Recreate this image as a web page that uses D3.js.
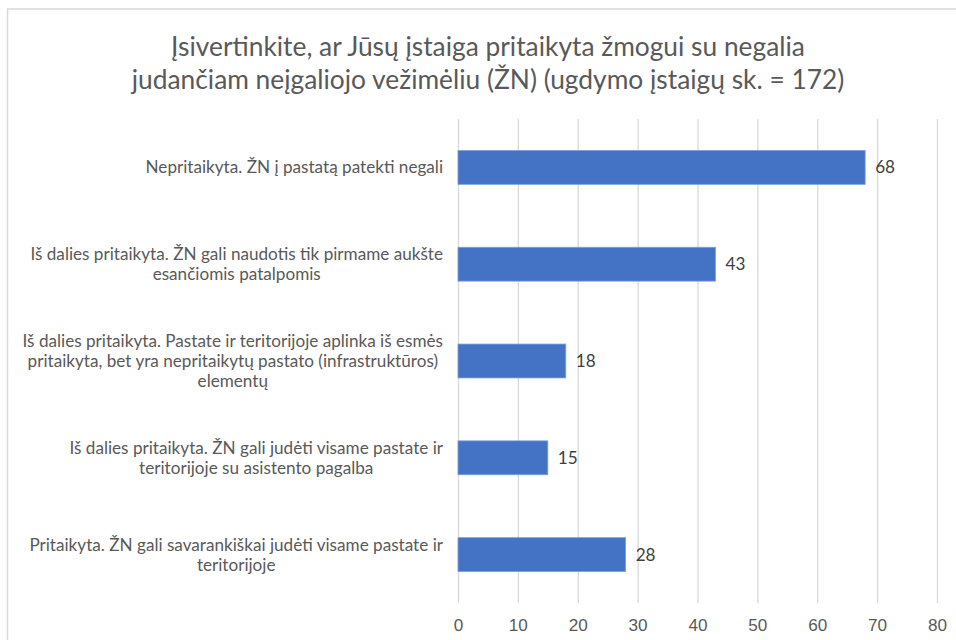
<!DOCTYPE html>
<html>
<head>
<meta charset="utf-8">
<style>
    body { margin: 0; background: #fff; }
    svg { font-family: Lato, "Liberation Sans", sans-serif; }
    .grid line { stroke: #d9d9d9; stroke-width: 1.3px; }
    .grid .domain { display: none; }
    .xaxis .domain { display: none; }
    .xaxis text { fill: #595959; }
</style>
<script src="https://d3js.org/d3.v7.min.js"></script>
</head>
<body>
<script>
    const width = 956, height = 640;

    const titleLines = [
        'Įsivertinkite, ar Jūsų įstaiga pritaikyta žmogui su negalia',
        'judančiam neįgaliojo vežimėliu (ŽN) (ugdymo įstaigų sk. = 172)'
    ];
    const categories = [
        'Nepritaikyta. ŽN į pastatą patekti negali',
        'Iš dalies pritaikyta. ŽN gali naudotis tik pirmame aukšte\nesančiomis patalpomis',
        'Iš dalies pritaikyta. Pastate ir teritorijoje aplinka iš esmės\npritaikyta, bet yra nepritaikytų pastato (infrastruktūros)\nelementų',
        'Iš dalies pritaikyta. ŽN gali judėti visame pastate ir\nteritorijoje su asistento pagalba',
        'Pritaikyta. ŽN gali savarankiškai judėti visame pastate ir\nteritorijoje'
    ];
    const values = [68, 43, 18, 15, 28];
    const xTicks = [0, 10, 20, 30, 40, 50, 60, 70, 80];

    const margin = {top: 119, right: 19, bottom: 37, left: 458};

    const svg = d3.select('body').append('svg')
        .attr('width', width)
        .attr('height', height);

    // chart frame (only top / left edges fall inside the picture)
    svg.append('path')
        .attr('d', `M7.5,${height} V9 H${width}`)
        .attr('fill', 'none')
        .attr('stroke', '#d9d9d9')
        .attr('stroke-width', 1.5);

    // pick a font size so a line lands on the wanted width
    function fitSize(str, target) {
        const t = svg.append('text').attr('font-size', 100).text(str);
        const w = t.node().getComputedTextLength();
        t.remove();
        return 100 * target / w;
    }

    const titleSize = fitSize(titleLines[1], 713);
    svg.append('g').selectAll('text')
        .data(titleLines)
        .join('text')
        .attr('x', 488)
        .attr('y', (d, i) => 56 + i * 33)
        .attr('text-anchor', 'middle')
        .attr('font-size', titleSize)
        .attr('fill', '#595959')
        .text(d => d);

    const x = d3.scaleLinear()
        .domain([0, 80])
        .range([margin.left, width - margin.right]);
    const y = d3.scaleBand()
        .domain(d3.range(categories.length))
        .range([margin.top, height - margin.bottom])
        .paddingInner(0.65)
        .paddingOuter(0.325);

    svg.append('g')
        .attr('class', 'grid')
        .attr('transform', `translate(0,${height - margin.bottom})`)
        .call(d3.axisBottom(x).tickValues(xTicks).tickSize(-(height - margin.bottom - margin.top)).tickFormat(''));

    const labelSize = fitSize('Iš dalies pritaikyta. Pastate ir teritorijoje aplinka iš esmės', 421);

    const xAxis = svg.append('g')
        .attr('class', 'xaxis')
        .attr('transform', `translate(0,${height - margin.bottom})`)
        .call(d3.axisBottom(x).tickValues(xTicks).tickSize(0).tickPadding(16));
    xAxis.selectAll('text').attr('font-size', labelSize).attr('font-family', null);

    svg.append('g').selectAll('rect')
        .data(values)
        .join('rect')
        .attr('x', x(0))
        .attr('y', (d, i) => y(i))
        .attr('width', d => x(d) - x(0))
        .attr('height', y.bandwidth())
        .attr('fill', '#4472c4')
        .attr('stroke', '#7d9fdc')
        .attr('stroke-width', 0.8);

    svg.append('g').selectAll('text')
        .data(values)
        .join('text')
        .attr('x', d => x(d) + 10)
        .attr('y', (d, i) => y(i) + y.bandwidth() / 2)
        .attr('dy', '0.35em')
        .attr('font-size', labelSize)
        .attr('fill', '#404040')
        .text(d => d);

    // category labels: block right-aligned to the axis, lines centred in the block
    const labelRight = margin.left - 15;
    const lineH = 20;
    const catG = svg.append('g').attr('font-size', labelSize).attr('fill', '#595959');
    categories.forEach((c, i) => {
        const lines = c.split('\n');
        const g = catG.append('g');
        const txt = g.selectAll('text')
            .data(lines)
            .join('text')
            .attr('text-anchor', 'middle')
            .attr('dy', '0.35em')
            .text(d => d);
        const blockW = d3.max(txt.nodes(), n => n.getComputedTextLength());
        const cy = y(i) + y.bandwidth() / 2;
        txt.attr('x', labelRight - blockW / 2)
            .attr('y', (d, k) => cy + (k - (lines.length - 1) / 2) * lineH);
    });
</script>
</body>
</html>
